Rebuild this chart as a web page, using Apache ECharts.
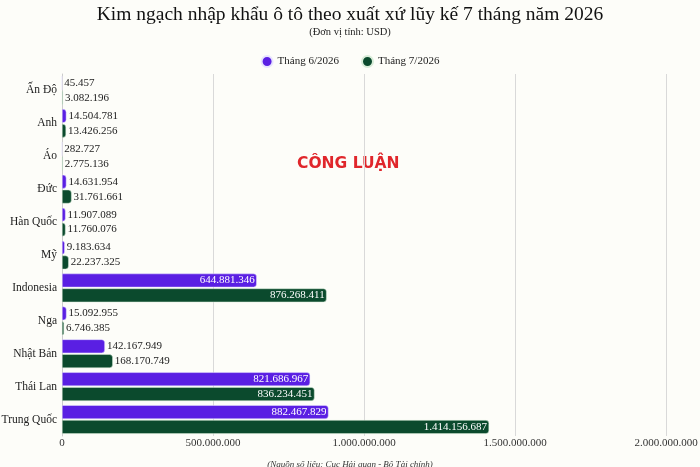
<!DOCTYPE html>
<html><head><meta charset="utf-8">
<script src="https://cdn.jsdelivr.net/npm/echarts@6/dist/echarts.min.js"></script>
<style>html,body{margin:0;padding:0;background:#fdfdf9;}#c{width:700px;height:467px;}</style>
</head><body><div id="c"></div>
<script>
const categories = ['Ấn Độ','Anh','Áo','Đức','Hàn Quốc','Mỹ','Indonesia','Nga','Nhật Bản','Thái Lan','Trung Quốc'];
const june = [45457,14504781,282727,14631954,11907089,9183634,644881346,15092955,142167949,821686967,882467829];
const july = [3082196,13426256,2775136,31761661,11760076,22237325,876268411,6746385,168170749,836234451,1414156687];
const seriesNames = ['Tháng 6/2026','Tháng 7/2026'];
const xTicks = {min:0, max:2000000000, interval:500000000};

const fmt = v => String(Math.round(v)).replace(/\B(?=(\d{3})+(?!\d))/g, '.');
const serif = '"Liberation Serif","DejaVu Serif",serif';
function mk(vals){
  return vals.map(v => v > 500000000
    ? {value:v, label:{position:'insideRight', color:'#ffffff'}}
    : {value:v, label:{position:'right', color:'#222222'}});
}
const chart = echarts.init(document.getElementById('c'));
chart.setOption({
  backgroundColor:'#fdfdf9',
  title:[{text:'Kim ngạch nhập khẩu ô tô theo xuất xứ lũy kế 7 tháng năm 2026', left:'center', top:0,
    textStyle:{fontFamily:serif, fontSize:19.5, fontWeight:'normal', color:'#111'}},
    {text:'(Đơn vị tính: USD)', left:'center', top:22, textStyle:{fontFamily:serif, fontSize:10.5, fontWeight:'normal', color:'#222'}},
    {text:'(Nguồn số liệu: Cục Hải quan - Bộ Tài chính)', left:'center', top:455,
      textStyle:{fontFamily:serif, fontSize:9, fontStyle:'italic', fontWeight:'normal', color:'#333'}}],
  legend:{top:50, left:'center', icon:'circle', itemWidth:11, itemHeight:11, itemGap:22,
    textStyle:{fontFamily:serif, fontSize:11, color:'#222'}},
  graphic:[{type:'text', left:297, top:156, style:{text:'CÔNG LUẬN', fill:'#e0262b',
    font:'bold 15.5px "DejaVu Sans",sans-serif'}}],
  grid:{left:62, right:34, top:74, bottom:31, containLabel:false, outerBoundsMode:'none'},
  xAxis:{type:'value', min:xTicks.min, max:xTicks.max, interval:xTicks.interval,
    axisLabel:{fontFamily:serif, fontSize:11, color:'#333', formatter:v=>fmt(v), margin:2},
    splitLine:{lineStyle:{color:'#d9d9d9'}}, axisLine:{show:false}},
  yAxis:{type:'category', data:categories, inverse:true,
    axisTick:{show:false}, axisLine:{show:true, lineStyle:{color:'#cccccc'}},
    axisLabel:{fontFamily:serif, fontSize:11.5, color:'#222', margin:5}},
  series:[
    {name:seriesNames[0], type:'bar', data:mk(june), barGap:'8%', barCategoryGap:'13%',
      itemStyle:{color:'#5a1fe3', borderRadius:[0,3,3,0], borderColor:'#e8e4ff', borderWidth:0.5},
      label:{show:true, fontFamily:serif, fontSize:11, formatter:p=>fmt(p.value), distance:2}},
    {name:seriesNames[1], type:'bar', data:mk(july),
      itemStyle:{color:'#0b4a2d', borderRadius:[0,3,3,0], borderColor:'#d8ecd8', borderWidth:0.5},
      label:{show:true, fontFamily:serif, fontSize:11, formatter:p=>fmt(p.value), distance:2}}
  ]
});
</script></body></html>
